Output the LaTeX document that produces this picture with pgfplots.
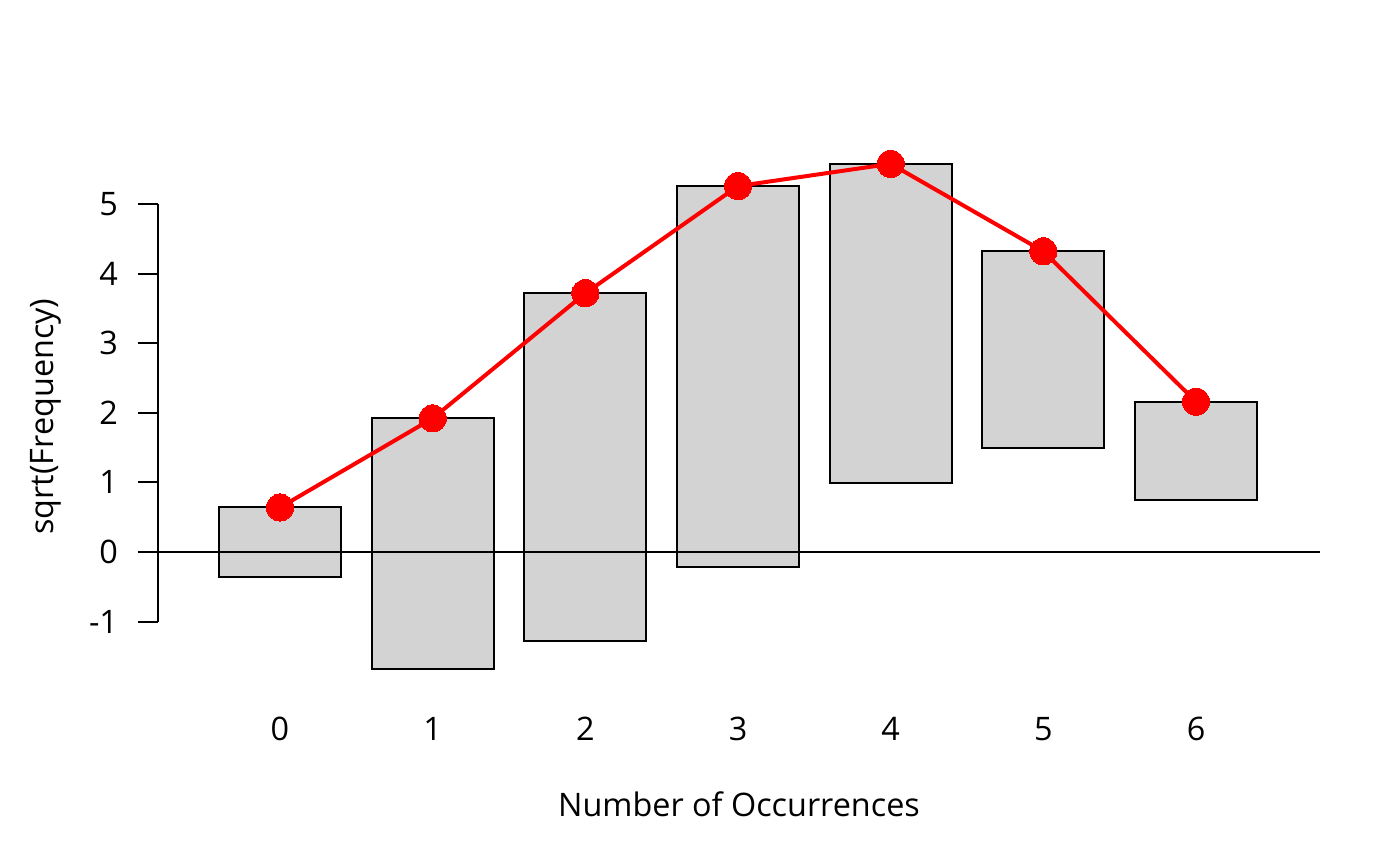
\documentclass[border=0pt]{standalone}
\usepackage{fontspec}
\setmainfont{Open Sans}
\usepackage{pgfplots}
\usepackage{pgfplotstable}
\pgfplotsset{compat=1.18}
\definecolor{barfill}{HTML}{D3D3D3}
\definecolor{rootred}{HTML}{FF0000}
% x, bottom of hanging bar, sqrt(observed), sqrt(expected)
\pgfplotstableread{
x  lo      obs    exp
0  -0.360  1.000  0.640
1  -1.686  3.606  1.920
2  -1.282  5.000  3.718
3  -0.219  5.477  5.258
4   0.994  4.583  5.577
5   1.492  2.828  4.320
6   0.746  1.414  2.160
}\roottable
\begin{document}
\fontsize{11.7pt}{14pt}\selectfont
\begin{tikzpicture}
\path[use as bounding box] (0,0) rectangle (504bp,311.76bp);
% bars (axis shifted by +2 so that the stacked bases stay positive)
\begin{axis}[
  at={(56.88bp,63.50bp)}, anchor=south west,
  scale only axis, width=418.32bp, height=196.56bp,
  xmin=-0.799, xmax=6.812, ymin=0.023, ymax=7.868,
  axis line style={draw=none},
  clip=false,
  ybar stacked, bar width=0.8,
  xtick={0,1,2,3,4,5,6},
  xtick style={draw=none},
  ytick={1,2,3,4,5,6,7},
  yticklabels={-1,0,1,2,3,4,5},
  ytick pos=left,
  ytick style={black, line width=0.72bp},
  tick align=outside,
  major tick length=7.2bp,
  xticklabel style={anchor=base, yshift=-11.3bp},
  yticklabel style={anchor=east, inner sep=0pt, xshift=-7.0bp},
  /pgf/number format/assume math mode=true,
]
\addplot[draw=none, fill=none] table[x=x, y expr=\thisrow{lo}+2] {\roottable};
\addplot[draw=black, line width=0.72bp, fill=barfill] table[x=x, y=obs] {\roottable};
\draw[black, line width=0.72bp] (axis cs:-0.799,1) -- (axis cs:-0.799,7);
\end{axis}
% zero line and expected curve
\begin{axis}[
  at={(56.88bp,63.50bp)}, anchor=south west,
  scale only axis, width=418.32bp, height=196.56bp,
  xmin=-0.799, xmax=6.812, ymin=-1.977, ymax=5.868,
  hide axis, clip=false,
]
\addplot[black, line width=0.72bp, forget plot] coordinates {(-0.933,0) (6.812,0)};
\addplot[rootred, line width=1.44bp, mark=*, mark size=4.9bp, mark options={fill=rootred, draw=rootred, line width=0pt}] table[x=x, y=exp] {\roottable};
\end{axis}
\node[anchor=base] at (266.04bp,18.0bp) {Number of Occurrences};
\node[rotate=90] at (16.56bp,161.78bp) {sqrt(Frequency)};
\end{tikzpicture}
\end{document}
